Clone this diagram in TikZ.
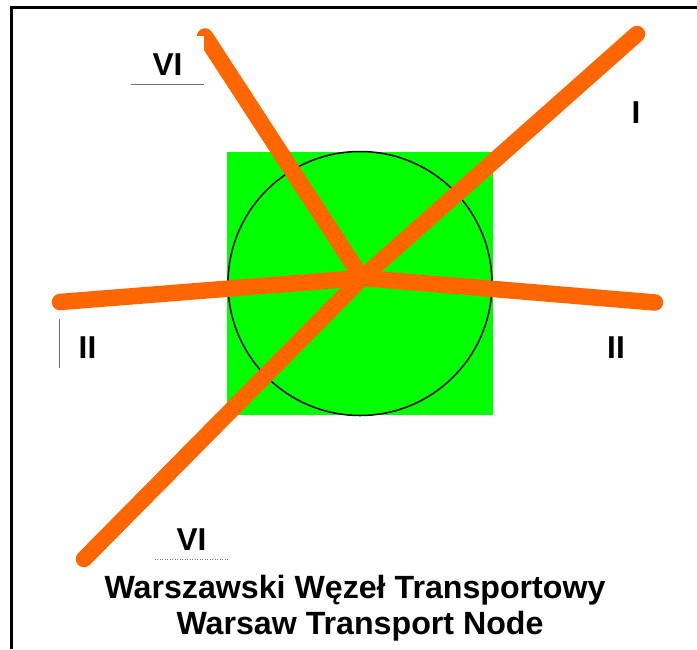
\documentclass[tikz,border=0pt]{standalone}
\usepackage{fontspec}
\setmainfont{Liberation Sans}
\usepackage{xcolor}
\usepackage{tikz}
\usetikzlibrary{positioning}
\definecolor{nodegreen}{HTML}{00FF00}
\definecolor{lineorange}{HTML}{FF6600}
\tikzset{
  sqnode/.style={rectangle,fill=nodegreen,minimum width=5.32cm,minimum height=5.26cm,inner sep=0pt},
  cirnode/.style={circle,draw=black,line width=0.03cm,minimum size=5.28cm,inner sep=0pt},
  trackedge/.style={line width=0.33cm,lineorange,line cap=round,line join=round},
  numnode/.style={font=\bfseries\fontsize{18}{21}\selectfont,inner sep=0pt},
  numbox/.style={numnode,fill=white,minimum width=1.46cm,text height=0.79cm,text depth=0.17cm},
  titlenode/.style={font=\bfseries\fontsize{18.3}{21}\selectfont,inner sep=0pt},
  thinrule/.style={line width=0.015cm,black!55},
}

\begin{document}
\begin{tikzpicture}
  \useasboundingbox (0,0) rectangle (13.94,-12.98);
  % frame
  \coordinate (nfa) at (0.23,-12.98);
  \coordinate (nfb) at (0.23,-0.15);
  \coordinate (nfc) at (13.94,-0.15);
  \draw[line width=0.05cm,black] (nfa) -- (nfb) -- (nfc);
  \node[sqnode] (nsq) at (7.20,-5.67) {};
  \node[cirnode] (ncir) at (7.20,-5.67) {};
  % line ends
  \coordinate (nhub) at (7.24,-5.56);
  \coordinate (nwest) at (1.20,-6.04);
  \coordinate (neast) at (13.10,-6.05);
  \coordinate (nsw) at (1.68,-11.18);
  \coordinate (nne) at (12.74,-0.68);
  \coordinate (nnw) at (4.10,-0.73);
  \draw[trackedge] (nwest) -- (nhub) -- (neast);
  \draw[trackedge] (nsw) -- (nhub) -- (nne);
  \draw[trackedge] (nnw) -- (nhub);
  % labels
  \node[numbox] (nVIa) at (3.35,-1.20) {VI\hspace{0.12cm}};
  \draw[thinrule] (nVIa.south west) -- (nVIa.south east);
  \node[numnode] (nIIa) at (1.75,-6.95) {II};
  \coordinate (nra) at (1.18,-6.38);
  \coordinate (nrb) at (1.18,-7.36);
  \draw[thinrule] (nra) -- (nrb);
  \node[numnode] (nIIb) at (12.32,-6.95) {II};
  \node[numnode] (nI) at (12.72,-2.25) {I};
  \node[numbox] (nVIb) at (3.83,-10.70) {VI\hspace{0.10cm}};
  \draw[thinrule,densely dotted] (nVIb.south west) -- (nVIb.south east);
  \node[titlenode] (ntitlea) at (7.10,-11.80) {Warszawski Węzeł Transportowy};
  \node[titlenode] (ntitleb) at (7.20,-12.52) {Warsaw Transport Node};
\end{tikzpicture}
\end{document}
